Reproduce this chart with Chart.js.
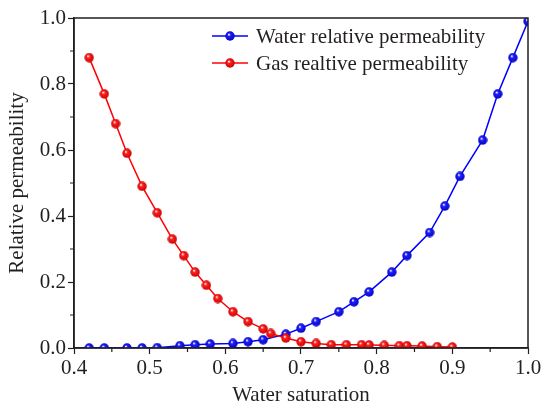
<!DOCTYPE html>
<html>
<head>
<meta charset="utf-8">
<script src="https://cdn.jsdelivr.net/npm/chart.js@4.4.1/dist/chart.umd.min.js"></script>
<style>
  html, body { margin: 0; padding: 0; background: #fff; }
  #wrap { width: 545px; height: 410px; }
</style>
</head>
<body>
<div id="wrap"><canvas id="kr-chart"></canvas></div>
<script>
// relative permeability curves vs water saturation
const waterSat = [0.42, 0.44, 0.47, 0.49, 0.51, 0.54, 0.56, 0.58, 0.61, 0.63, 0.65, 0.68, 0.70,
  0.72, 0.75, 0.77, 0.79, 0.82, 0.84, 0.87, 0.89, 0.91, 0.94, 0.96, 0.98, 1.0];
const waterKr = [0, 0, 0, 0, 0.001, 0.007, 0.01, 0.012, 0.014, 0.019, 0.025, 0.042, 0.06,
  0.08, 0.11, 0.14, 0.17, 0.23, 0.28, 0.35, 0.43, 0.52, 0.63, 0.77, 0.88, 0.99];

const gasSat = [0.42, 0.44, 0.455, 0.47, 0.49, 0.51, 0.53, 0.545, 0.56, 0.575, 0.59, 0.61, 0.63, 0.65,
  0.66, 0.68, 0.70, 0.72, 0.74, 0.76, 0.78, 0.79, 0.81, 0.83, 0.84, 0.86, 0.88, 0.90];
const gasKr = [0.88, 0.77, 0.68, 0.59, 0.49, 0.41, 0.33, 0.28, 0.23, 0.19, 0.15, 0.11, 0.08, 0.058,
  0.044, 0.03, 0.019, 0.014, 0.01, 0.01, 0.01, 0.009, 0.008, 0.007, 0.007, 0.006, 0.004, 0.003];

const xTickValues = [0.4, 0.5, 0.6, 0.7, 0.8, 0.9, 1.0];
const yTickValues = [0.0, 0.2, 0.4, 0.6, 0.8, 1.0];

const seriesNames = ['Water relative permeability', 'Gas realtive permeability'];

const textColor = '#231f20';
const fontFamily = '"Liberation Serif", "Times New Roman", serif';
const fontSize = 21;

// little shaded ball used as the marker
function makeBall(base, dark) {
  const size = 10;
  const c = document.createElement('canvas');
  c.width = size;
  c.height = size;
  const g = c.getContext('2d');
  const grad = g.createRadialGradient(size * 0.38, size * 0.34, 0.3, size / 2, size / 2, size / 2);
  grad.addColorStop(0, '#ffffff');
  grad.addColorStop(0.28, base);
  grad.addColorStop(1, dark);
  g.fillStyle = grad;
  g.beginPath();
  g.arc(size / 2, size / 2, size / 2 - 0.3, 0, Math.PI * 2);
  g.fill();
  return c;
}

const blueBall = makeBall('#2020ff', '#0000c0');
const redBall = makeBall('#ff2020', '#c80000');

function toPoints(xs, ys) {
  return xs.map((x, i) => ({ x: x, y: ys[i] }));
}

// frame, minor ticks and the in-plot legend
const framePlugin = {
  id: 'frame',
  afterDraw(chart) {
    const ctx = chart.ctx;
    const a = chart.chartArea;
    const xs = chart.scales.x;
    const ys = chart.scales.y;
    ctx.save();
    ctx.strokeStyle = textColor;
    ctx.lineWidth = 1.5;
    ctx.strokeRect(a.left, a.top, a.right - a.left, a.bottom - a.top);

    // minor ticks halfway between the labelled ones
    ctx.lineWidth = 1.2;
    ctx.beginPath();
    for (let i = 0; i < xTickValues.length - 1; i++) {
      const px = xs.getPixelForValue((xTickValues[i] + xTickValues[i + 1]) / 2);
      ctx.moveTo(px, a.bottom);
      ctx.lineTo(px, a.bottom + 4);
    }
    for (let i = 0; i < yTickValues.length - 1; i++) {
      const py = ys.getPixelForValue((yTickValues[i] + yTickValues[i + 1]) / 2);
      ctx.moveTo(a.left, py);
      ctx.lineTo(a.left - 4, py);
    }
    ctx.stroke();

    // legend
    const markers = [blueBall, redBall];
    const colors = ['#0000ff', '#ff0000'];
    const lx = a.left + 138;
    const rowY = [a.top + 18, a.top + 45];
    ctx.font = fontSize + 'px ' + fontFamily;
    ctx.textBaseline = 'middle';
    ctx.textAlign = 'left';
    seriesNames.forEach((name, i) => {
      ctx.strokeStyle = colors[i];
      ctx.lineWidth = 1.5;
      ctx.beginPath();
      ctx.moveTo(lx, rowY[i]);
      ctx.lineTo(lx + 36, rowY[i]);
      ctx.stroke();
      ctx.drawImage(markers[i], lx + 18 - 5, rowY[i] - 5);
      ctx.fillStyle = textColor;
      ctx.fillText(name, lx + 44, rowY[i] + 1);
    });
    ctx.restore();
  }
};

const ctx = document.getElementById('kr-chart').getContext('2d');

new Chart(ctx, {
  type: 'line',
  data: {
    datasets: [
      {
        label: seriesNames[0],
        data: toPoints(waterSat, waterKr),
        borderColor: '#0000ff',
        borderWidth: 1.5,
        pointStyle: blueBall,
        pointRadius: 5,
        tension: 0,
        order: 1,
      },
      {
        label: seriesNames[1],
        data: toPoints(gasSat, gasKr),
        borderColor: '#ff0000',
        borderWidth: 1.5,
        pointStyle: redBall,
        pointRadius: 5,
        tension: 0,
        order: 0,
      },
    ],
  },
  options: {
    responsive: true,
    maintainAspectRatio: false,
    animation: false,
    layout: { padding: { top: 18, right: 17, left: 0, bottom: 0 } },
    plugins: {
      legend: { display: false },
      tooltip: { enabled: false },
    },
    scales: {
      x: {
        type: 'linear',
        min: 0.4,
        max: 1.0,
        afterBuildTicks: (s) => { s.ticks = xTickValues.map((v) => ({ value: v })); },
        afterFit: (s) => { s.height = 62; },
        grid: { drawOnChartArea: false, drawTicks: true, tickLength: 6, tickColor: textColor, tickWidth: 1.2 },
        border: { display: true, color: textColor, width: 1.5 },
        ticks: {
          color: textColor,
          padding: 2,
          maxRotation: 0,
          font: { family: fontFamily, size: fontSize },
          callback: (v) => v.toFixed(1),
        },
        title: {
          display: true,
          text: 'Water saturation',
          color: textColor,
          font: { family: fontFamily, size: fontSize },
          padding: { top: 0, bottom: 2 },
        },
      },
      y: {
        type: 'linear',
        min: 0,
        max: 1.0,
        afterBuildTicks: (s) => { s.ticks = yTickValues.map((v) => ({ value: v })); },
        afterFit: (s) => { s.width = 74; },
        grid: { drawOnChartArea: false, drawTicks: true, tickLength: 6, tickColor: textColor, tickWidth: 1.2 },
        border: { display: true, color: textColor, width: 1.5 },
        ticks: {
          color: textColor,
          padding: 2,
          font: { family: fontFamily, size: fontSize },
          callback: (v) => v.toFixed(1),
        },
        title: {
          display: true,
          text: 'Relative permeability',
          color: textColor,
          font: { family: fontFamily, size: fontSize },
          padding: { top: 5, bottom: 0 },
        },
      },
    },
  },
  plugins: [framePlugin],
});
</script>
</body>
</html>
